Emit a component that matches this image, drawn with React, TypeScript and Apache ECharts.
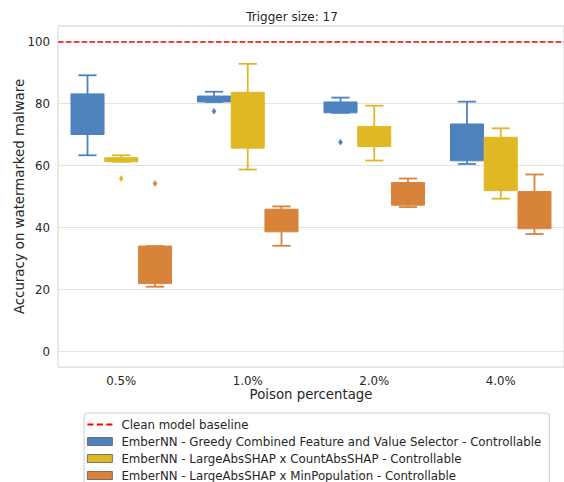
import React, { useEffect, useRef } from "react";
import * as echarts from "echarts";

const categories = ["0.5%", "1.0%", "2.0%", "4.0%"];
const seriesNames = [
  "EmberNN - Greedy Combined Feature and Value Selector - Controllable",
  "EmberNN - LargeAbsSHAP x CountAbsSHAP - Controllable",
  "EmberNN - LargeAbsSHAP x MinPopulation - Controllable",
];
const seriesColors = ["#4d82bf", "#dfb824", "#d8833a"];

// [lowWhisker, q1, median, q3, highWhisker] per category
const greedyStats = [
  [63.3, 70.0, 77.0, 83.1, 89.1],
  [80.5, 80.5, 81.5, 82.4, 83.8],
  [77.0, 77.0, 79.0, 80.5, 81.9],
  [60.5, 61.5, 66.0, 73.4, 80.6],
];
const countAbsStats = [
  [61.2, 61.2, 62.0, 62.5, 63.3],
  [58.7, 65.6, 75.0, 83.6, 92.8],
  [61.6, 66.1, 69.0, 72.6, 79.3],
  [49.3, 51.9, 60.0, 69.1, 72.0],
];
const minPopStats = [
  [20.9, 21.9, 27.0, 34.0, 34.0],
  [34.1, 38.6, 42.0, 45.9, 46.8],
  [46.6, 47.2, 51.0, 54.5, 55.8],
  [37.9, 39.6, 45.0, 51.6, 57.1],
];
// [category, value]
const greedyOutliers: [string, number][] = [["1.0%", 77.5], ["2.0%", 67.5]];
const countAbsOutliers: [string, number][] = [["0.5%", 55.8]];
const minPopOutliers: [string, number][] = [["0.5%", 54.2]];

const baselineName = "Clean model baseline";
const baselineValue = 100;
const titleText = "Trigger size: 17";
const xName = "Poison percentage";
const yName = "Accuracy on watermarked malware";

const FONT = "DejaVu Sans";
const TEXT = "#262626";

function boxRender(color: string, slot: number) {
  return (params: any, api: any) => {
    const cat = api.value(0);
    const band = api.size([1, 0])[0];
    const hueW = (band * 0.8) / 3;
    const cx = api.coord([cat, 0])[0] + (slot - 1) * hueW;
    const w = hueW * 0.98;
    const yy = (d: number) => api.coord([cat, api.value(d)])[1];
    const lo = yy(1), q1 = yy(2), med = yy(3), q3 = yy(4), hi = yy(5);
    const capW = w * 0.55;
    const ls = { stroke: color, lineWidth: 1.8 };
    return {
      type: "group",
      children: [
        { type: "line", shape: { x1: cx, y1: q1, x2: cx, y2: lo }, style: ls },
        { type: "line", shape: { x1: cx, y1: q3, x2: cx, y2: hi }, style: ls },
        { type: "line", shape: { x1: cx - capW / 2, y1: lo, x2: cx + capW / 2, y2: lo }, style: ls },
        { type: "line", shape: { x1: cx - capW / 2, y1: hi, x2: cx + capW / 2, y2: hi }, style: ls },
        {
          type: "rect",
          shape: { x: cx - w / 2, y: q3, width: w, height: Math.max(q1 - q3, 1) },
          style: { fill: color, stroke: color, lineWidth: 1 },
        },
        { type: "line", shape: { x1: cx - w / 2, y1: med, x2: cx + w / 2, y2: med }, style: ls },
      ],
    };
  };
}

function outlierRender(color: string, slot: number) {
  return (params: any, api: any) => {
    const cat = api.value(0);
    const band = api.size([1, 0])[0];
    const hueW = (band * 0.8) / 3;
    const p = api.coord([cat, api.value(1)]);
    const x = p[0] + (slot - 1) * hueW;
    const y = p[1];
    return {
      type: "polygon",
      shape: { points: [[x, y - 3], [x + 2, y], [x, y + 3], [x - 2, y]] },
      style: { fill: color, stroke: color, lineWidth: 0.5 },
    };
  };
}

export default function App() {
  const ref = useRef<HTMLDivElement>(null);
  useEffect(() => {
    document.body.style.margin = "0";
    document.documentElement.style.overflow = "hidden";
    document.body.style.overflow = "hidden";
    if (!ref.current) return;
    const chart = echarts.init(ref.current, null, { renderer: "svg" });
    const statsList = [greedyStats, countAbsStats, minPopStats];
    const outList = [greedyOutliers, countAbsOutliers, minPopOutliers];
    const series: any[] = [
      {
        type: "line",
        name: baselineName,
        data: [],
        symbol: "none",
        color: "#ff0000",
        lineStyle: { color: "#ff0000", width: 1.5, type: [5.5, 2.4] },
        markLine: {
          silent: true,
          symbol: ["none", "none"],
          label: { show: false },
          lineStyle: { color: "#ff0000", width: 1.5, type: [5.5, 2.4] },
          data: [{ yAxis: baselineValue }],
        },
      },
    ];
    statsList.forEach((stats, i) => {
      series.push({
        type: "custom",
        name: seriesNames[i],
        color: seriesColors[i],
        itemStyle: { color: seriesColors[i] },
        renderItem: boxRender(seriesColors[i], i),
        encode: { x: 0, y: [1, 2, 3, 4, 5] },
        data: stats.map((s, ci) => [ci, ...s]),
        z: 3,
      });
      series.push({
        type: "custom",
        name: seriesNames[i],
        color: seriesColors[i],
        itemStyle: { color: seriesColors[i] },
        renderItem: outlierRender(seriesColors[i], i),
        encode: { x: 0, y: 1 },
        data: outList[i].map(([c, v]) => [categories.indexOf(c), v]),
        z: 3,
      });
    });
    chart.setOption({
      animation: false,
      backgroundColor: "#ffffff",
      textStyle: { fontFamily: FONT },
      graphic: [
        {
          type: "text",
          x: 292,
          y: 17,
          style: {
            text: titleText,
            font: `12px "${FONT}"`,
            fill: TEXT,
            textAlign: "center",
            textVerticalAlign: "middle",
          },
        },
      ],
      grid: {
        left: 58,
        top: 26,
        width: 515,
        height: 341,
        show: true,
        borderColor: "#d6d6d6",
        borderWidth: 1,
        containLabel: false,
      },
      legend: {
        left: 84,
        top: 413,
        height: 90,
        orient: "vertical",
        selectedMode: false,
        padding: [5, 8, 3, 3],
        itemGap: 4,
        itemWidth: 25,
        itemHeight: 8,
        borderColor: "#cccccc",
        borderWidth: 1,
        borderRadius: 3,
        backgroundColor: "#ffffff",
        textStyle: {
          fontFamily: FONT,
          fontSize: 11.8,
          color: TEXT,
          lineHeight: 13,
          padding: [0, 0, 0, 4],
        },
        data: [
          {
            name: baselineName,
            icon: "path://M0,0h5.5v1.6h-5.5z M8.5,0h5.5v1.6h-5.5z M17,0h5.5v1.6h-5.5z",
            itemStyle: { color: "#ff0000", borderWidth: 0 },
          },
          ...seriesNames.map((n, i) => ({
            name: n,
            icon: "rect",
            itemStyle: { color: seriesColors[i], borderColor: "#5a5a5a", borderWidth: 0.8 },
          })),
        ],
      },
      xAxis: {
        type: "category",
        data: categories,
        boundaryGap: true,
        axisLine: { show: false },
        axisTick: { show: false },
        splitLine: { show: false },
        axisLabel: { fontFamily: FONT, fontSize: 11.8, color: TEXT, margin: 8 },
        name: xName,
        nameLocation: "middle",
        nameGap: 20.5,
        nameMoveOverlap: false,
        nameTextStyle: { fontFamily: FONT, fontSize: 13.3, color: TEXT },
      },
      yAxis: {
        type: "value",
        min: -5,
        max: 105,
        splitNumber: 5,
        axisLine: { show: false },
        axisTick: { show: false },
        splitLine: { show: true, lineStyle: { color: "#e3e3e3", width: 1 } },
        axisLabel: {
          fontFamily: FONT,
          fontSize: 11.8,
          color: TEXT,
          margin: 8,
          formatter: (v: number) => (v % 20 === 0 ? String(v) : ""),
        },
        name: yName,
        nameLocation: "middle",
        nameGap: 32,
        nameMoveOverlap: false,
        nameTextStyle: { fontFamily: FONT, fontSize: 13.3, color: TEXT },
      },
      series,
    });
    return () => chart.dispose();
  }, []);
  return (
    <div
      ref={ref}
      style={{ position: "fixed", left: 0, top: 0, width: 564, height: 482, overflow: "hidden" }}
    />
  );
}
